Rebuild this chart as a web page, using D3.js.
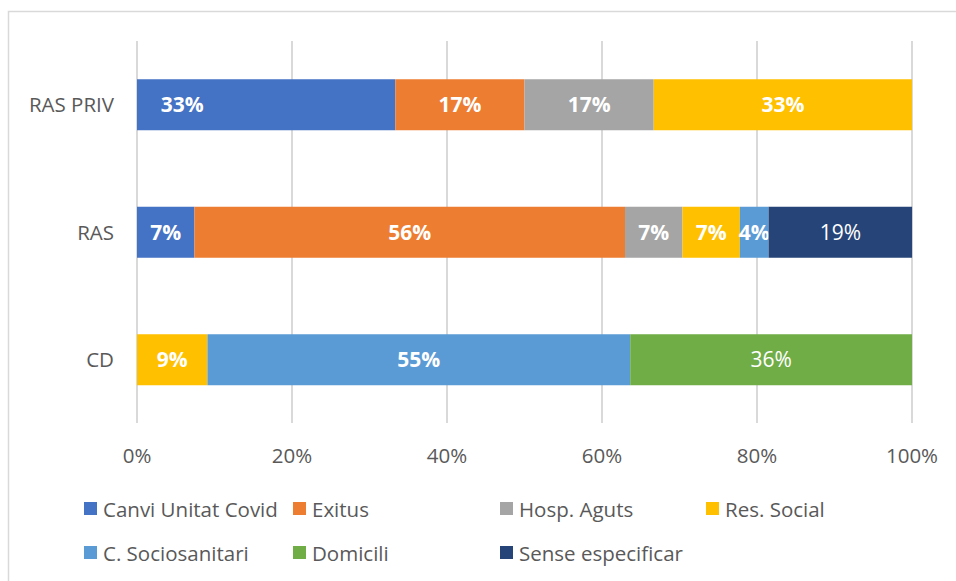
<meta charset="utf-8">
<script src="https://d3js.org/d3.v7.min.js"></script>
<style>
  body { margin: 0; background: #fff; }
  text { font-family: "Open Sans", "Liberation Sans", sans-serif; }
</style>
<body>
<div id="chart"></div>
<script>

var width = 956
var height = 581

// categories top to bottom
var categories = ["RAS PRIV", "RAS", "CD"]
var series = ["Canvi Unitat Covid", "Exitus", "Hosp. Aguts", "Res. Social", "C. Sociosanitari", "Domicili", "Sense especificar"]
var colors = ["#4472C4", "#ED7D31", "#A5A5A5", "#FFC000", "#5B9BD5", "#70AD47", "#264478"]

// share of each category, per series (same order as categories)
var canviUnitat   = [0.3333, 0.0741, 0]
var exitus        = [0.1667, 0.5556, 0]
var hospAguts     = [0.1667, 0.0741, 0]
var resSocial     = [0.3333, 0.0741, 0.0909]
var cSociosanit   = [0, 0.0370, 0.5455]
var domicili      = [0, 0, 0.3636]
var senseEspecif  = [0, 0.1852, 0]

var tickValues = [0, 0.2, 0.4, 0.6, 0.8, 1]

var seriesValues = [canviUnitat, exitus, hospAguts, resSocial, cSociosanit, domicili, senseEspecif]

var rows = categories.map(function(c, i) {
  var r = { cat: c }
  series.forEach(function(s, j) { r[s] = seriesValues[j][i] })
  return r
})

var stack = d3.stack().keys(series)(rows)

var svg = d3.select("#chart").append("svg")
  .attr("width", width)
  .attr("height", height)

// outer chart border (only top/left visible in the crop)
svg.append("rect")
  .attr("x", 8.5).attr("y", 11.5)
  .attr("width", 960).attr("height", 600)
  .attr("fill", "none")
  .attr("stroke", "#d9d9d9")
  .attr("stroke-width", 1.5)

var x = d3.scaleLinear().domain([0, 1]).range([137, 912])
var y = d3.scaleBand().domain(categories).range([41, 423.5]).paddingInner(0.6).paddingOuter(0.3)

// gridlines
svg.append("g").selectAll("line")
  .data(tickValues)
  .enter().append("line")
    .attr("x1", d => x(d)).attr("x2", d => x(d))
    .attr("y1", 41).attr("y2", 423)
    .attr("stroke", "#d9d9d9")
    .attr("stroke-width", 2)

// tick labels
svg.append("g").selectAll("text")
  .data(tickValues)
  .enter().append("text")
    .attr("x", d => x(d))
    .attr("y", 463)
    .attr("text-anchor", "middle")
    .attr("fill", "#595959")
    .attr("font-size", "20.5px")
    .text(d3.format(".0%"))

// category labels
svg.append("g").selectAll("text")
  .data(categories)
  .enter().append("text")
    .attr("x", 114)
    .attr("y", d => y(d) + y.bandwidth() / 2 + 7.5)
    .attr("text-anchor", "end")
    .attr("fill", "#595959")
    .attr("font-size", "20.5px")
    .text(d => d)

// bars
var layer = svg.append("g").selectAll("g")
  .data(stack)
  .enter().append("g")
    .attr("fill", (d, i) => colors[i])

layer.selectAll("rect")
  .data(d => d.filter(p => p[1] - p[0] > 0))
  .enter().append("rect")
    .attr("x", d => x(d[0]))
    .attr("y", d => y(d.data.cat))
    .attr("width", d => x(d[1]) - x(d[0]))
    .attr("height", y.bandwidth())

// the first RAS PRIV label sits near the left of its segment in the original
var nudge = { "RAS PRIV|Canvi Unitat Covid": -84 }
var plainLabel = ["Domicili", "Sense especificar"]

layer.each(function(s) {
  d3.select(this).selectAll("text")
    .data(s.filter(p => p[1] - p[0] > 0))
    .enter().append("text")
      .attr("x", d => (x(d[0]) + x(d[1])) / 2 + (nudge[d.data.cat + "|" + s.key] || 0))
      .attr("y", d => y(d.data.cat) + y.bandwidth() / 2 + 7.5)
      .attr("text-anchor", "middle")
      .attr("fill", "#fff")
      .attr("font-size", "21px")
      .attr("font-weight", plainLabel.indexOf(s.key) >= 0 ? "normal" : "bold")
      .text(d => d3.format(".0%")(d[1] - d[0]))
})

// legend, 4 per row
var legendX = [84, 293, 500, 706]
var legendY = [509, 553]
var legend = svg.append("g").selectAll("g")
  .data(series)
  .enter().append("g")
    .attr("transform", (d, i) => "translate(" + legendX[i % 4] + "," + legendY[Math.floor(i / 4)] + ")")

legend.append("rect")
  .attr("x", 0).attr("y", -7)
  .attr("width", 13).attr("height", 13)
  .attr("fill", (d, i) => colors[i])

legend.append("text")
  .attr("x", 19)
  .attr("y", 7.5)
  .attr("fill", "#595959")
  .attr("font-size", "20.5px")
  .text(d => d)

</script>
</body>
